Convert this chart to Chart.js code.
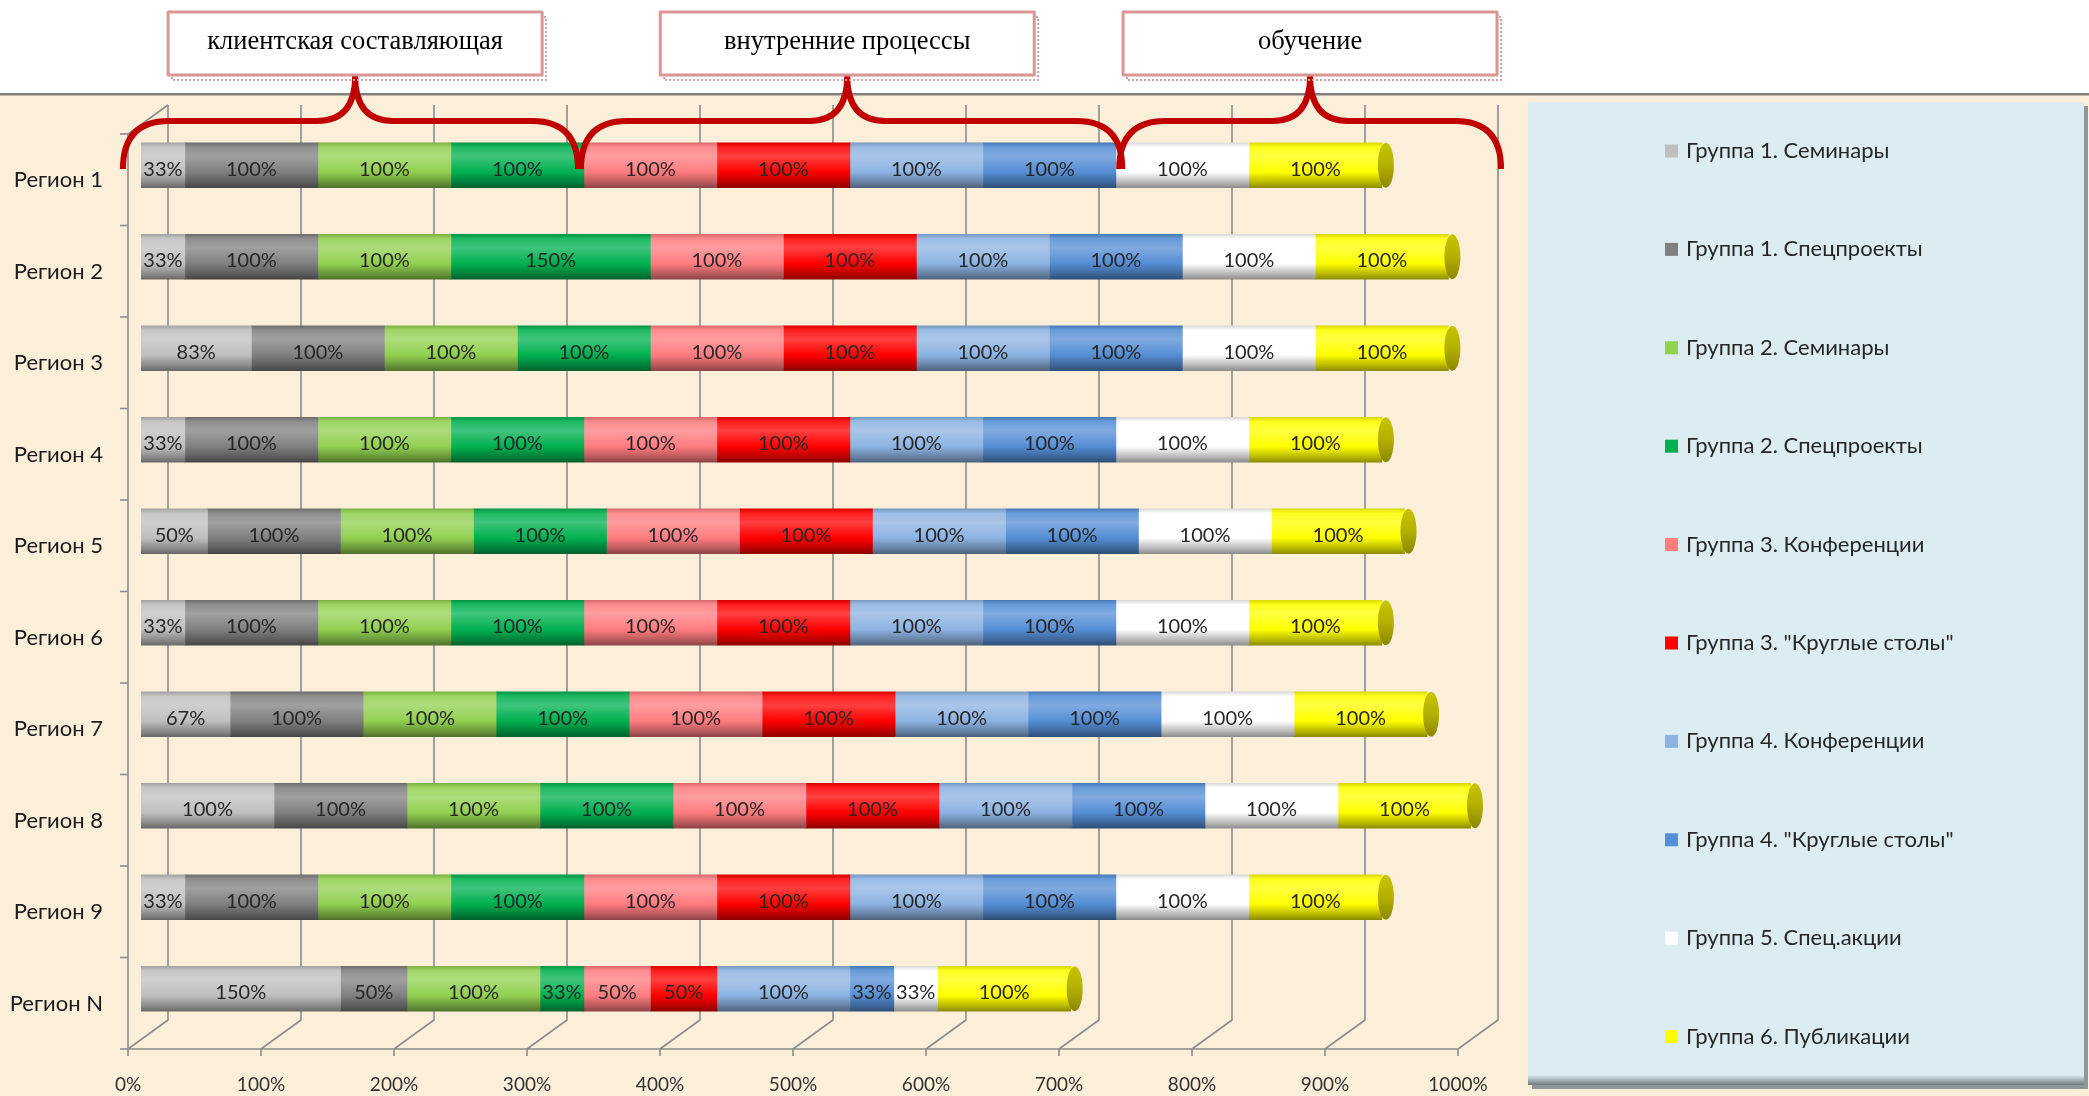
<!DOCTYPE html>
<html>
<head>
<meta charset="utf-8">
<script src="https://cdn.jsdelivr.net/npm/chart.js@4.4.1/dist/chart.umd.min.js"></script>
<style>
html, body { margin: 0; padding: 0; background: #fff; overflow: hidden; }
</style>
</head>
<body>
<canvas id="c" width="2089" height="1096"></canvas>
<script>
// категории
var regions = ['Регион 1', 'Регион 2', 'Регион 3', 'Регион 4', 'Регион 5', 'Регион 6', 'Регион 7', 'Регион 8', 'Регион 9', 'Регион N'];

// ряды, %
var g1Seminars  = [33, 33, 83, 33, 50, 33, 67, 100, 33, 150];
var g1Special   = [100, 100, 100, 100, 100, 100, 100, 100, 100, 50];
var g2Seminars  = [100, 100, 100, 100, 100, 100, 100, 100, 100, 100];
var g2Special   = [100, 150, 100, 100, 100, 100, 100, 100, 100, 33];
var g3Conf      = [100, 100, 100, 100, 100, 100, 100, 100, 100, 50];
var g3Round     = [100, 100, 100, 100, 100, 100, 100, 100, 100, 50];
var g4Conf      = [100, 100, 100, 100, 100, 100, 100, 100, 100, 100];
var g4Round     = [100, 100, 100, 100, 100, 100, 100, 100, 100, 33];
var g5Actions   = [100, 100, 100, 100, 100, 100, 100, 100, 100, 33];
var g6Publish   = [100, 100, 100, 100, 100, 100, 100, 100, 100, 100];

var seriesNames = ['Группа 1. Семинары', 'Группа 1. Спецпроекты', 'Группа 2. Семинары', 'Группа 2. Спецпроекты',
	'Группа 3. Конференции', 'Группа 3. "Круглые столы"', 'Группа 4. Конференции', 'Группа 4. "Круглые столы"',
	'Группа 5. Спец.акции', 'Группа 6. Публикации'];
var seriesColors = ['#bfbfbf', '#808080', '#92d050', '#00b050', '#ff7c80', '#ff0000', '#8db3e2', '#558ed5', '#ffffff', '#ffff00'];

var tickLabels = ['0%', '100%', '200%', '300%', '400%', '500%', '600%', '700%', '800%', '900%', '1000%'];

// группы сверху: заголовок, диапазон скобки и вершина (в единицах оси X)
var groupTitles = ['клиентская составляющая', 'внутренние процессы', 'обучение'];
var groupFrom   = [-13.6, 330.8, 735.5];
var groupTo     = [328.6, 737.8, 1022.6];
var groupPeak   = [161, 531, 879];

var BAR = 45;
var FONT = "Lato, 'Noto Sans', sans-serif";

function mix(hex, to, t) {
	var a = parseInt(hex.slice(1), 16), b = parseInt(to.slice(1), 16);
	var r = Math.round(((a >> 16) & 255) * (1 - t) + ((b >> 16) & 255) * t);
	var g = Math.round(((a >> 8) & 255) * (1 - t) + ((b >> 8) & 255) * t);
	var bl = Math.round((a & 255) * (1 - t) + (b & 255) * t);
	return 'rgb(' + r + ',' + g + ',' + bl + ')';
}

// цилиндрическая заливка
function cylinder(base) {
	return function(ctx) {
		var chart = ctx.chart, ys = chart.scales.y;
		if (ctx.type !== 'data' || !ys) return base;
		var yc = ys.getPixelForValue(ctx.dataIndex);
		if (!isFinite(yc)) return base;
		var g = chart.ctx.createLinearGradient(0, yc - BAR / 2, 0, yc + BAR / 2);
		g.addColorStop(0, mix(base, '#000000', 0.15));
		g.addColorStop(0.1, mix(base, '#ffffff', 0.12));
		g.addColorStop(0.3, mix(base, '#ffffff', 0.25));
		g.addColorStop(0.65, base);
		g.addColorStop(0.88, mix(base, '#000000', 0.28));
		g.addColorStop(1, mix(base, '#000000', 0.45));
		return g;
	};
}

var allSeries = [g1Seminars, g1Special, g2Seminars, g2Special, g3Conf, g3Round, g4Conf, g4Round, g5Actions, g6Publish];
var datasets = allSeries.map(function(d, i) {
	return {
		label: seriesNames[i],
		data: d,
		backgroundColor: cylinder(seriesColors[i]),
		borderWidth: 0,
		barThickness: BAR
	};
});

var OFF_BACK = 27, OFF_FRONT = -13, DEPTH = 14.5;

var bgPlugin = {
	id: 'bg',
	beforeDraw: function(chart) {
		var c = chart.ctx;
		c.save();
		c.fillStyle = '#ffffff';
		c.fillRect(0, 0, chart.width, 95);
		c.fillStyle = '#fbefd9';
		c.fillRect(0, 95, chart.width, chart.height - 95);
		c.fillStyle = '#808080';
		c.fillRect(0, 93, chart.width, 2.5);
		c.restore();
	}
};

// 3D-сетка
var gridPlugin = {
	id: 'grid3d',
	beforeDatasetsDraw: function(chart) {
		var xs = chart.scales.x, a = chart.chartArea, c = chart.ctx;
		var bTop = a.top - DEPTH, bBot = a.bottom - DEPTH, fTop = a.top + DEPTH, fBot = a.bottom + DEPTH;
		c.save();
		c.strokeStyle = '#8c8c8c';
		c.lineWidth = 1.6;
		xs.ticks.forEach(function(t) {
			var xm = xs.getPixelForValue(t.value);
			c.beginPath();
			c.moveTo(xm + OFF_BACK, bTop);
			c.lineTo(xm + OFF_BACK, bBot);
			c.lineTo(xm + OFF_FRONT, fBot);
			c.lineTo(xm + OFF_FRONT, fBot + 7);
			c.stroke();
		});
		var x0 = xs.getPixelForValue(0) + OFF_FRONT, x1 = xs.getPixelForValue(1000) + OFF_FRONT;
		c.beginPath();
		c.moveTo(x0, fBot); c.lineTo(x1, fBot);
		c.moveTo(x0 + (OFF_BACK - OFF_FRONT), bTop); c.lineTo(x0, fTop); c.lineTo(x0, fBot);
		c.stroke();
		var n = chart.data.labels.length, band = (a.bottom - a.top) / n;
		for (var k = 0; k <= n; k++) {
			var y = fTop + k * band;
			c.beginPath(); c.moveTo(x0 - 8, y); c.lineTo(x0, y); c.stroke();
		}
		c.restore();
	}
};

// торцы и подписи
var labelPlugin = {
	id: 'labels',
	afterDatasetsDraw: function(chart) {
		var c = chart.ctx, last = chart.data.datasets.length - 1;
		c.save();
		chart.getDatasetMeta(last).data.forEach(function(el) {
			var p = el.getProps(['x', 'y'], true);
			var g = c.createLinearGradient(0, p.y - BAR / 2, 0, p.y + BAR / 2);
			g.addColorStop(0, '#c8c400');
			g.addColorStop(0.5, '#b4b000');
			g.addColorStop(1, '#8a8600');
			c.fillStyle = g;
			c.beginPath();
			c.ellipse(p.x + 4, p.y, 8, BAR / 2, 0, 0, Math.PI * 2);
			c.fill();
		});
		c.font = '20px ' + FONT;
		c.fillStyle = '#262626';
		c.textAlign = 'center';
		c.textBaseline = 'middle';
		chart.data.datasets.forEach(function(ds, i) {
			chart.getDatasetMeta(i).data.forEach(function(el, j) {
				var v = ds.data[j];
				if (!v) return;
				var p = el.getProps(['x', 'base', 'y'], true);
				c.fillText(v + '%', (p.x + p.base) / 2, p.y + 4);
			});
		});
		c.restore();
	}
};

// скобки, заголовки групп, легенда
var decoPlugin = {
	id: 'deco',
	afterDraw: function(chart) {
		var c = chart.ctx, xs = chart.scales.x;
		c.save();
		// скобки
		var yTip = 169, yH = 121, yPeak = 76, r = 46, r2 = 38;
		c.strokeStyle = '#c00000';
		c.lineWidth = 6;
		c.lineJoin = 'round';
		for (var i = 0; i < groupTitles.length; i++) {
			var xa = xs.getPixelForValue(groupFrom[i]), xb = xs.getPixelForValue(groupTo[i]), xp = xs.getPixelForValue(groupPeak[i]);
			c.beginPath();
			c.moveTo(xa, yTip);
			c.quadraticCurveTo(xa, yH, xa + r, yH);
			c.lineTo(xp - r2, yH);
			c.quadraticCurveTo(xp, yH, xp, yPeak);
			c.quadraticCurveTo(xp, yH, xp + r2, yH);
			c.lineTo(xb - r, yH);
			c.quadraticCurveTo(xb, yH, xb, yTip);
			c.stroke();
		}
		// рамки заголовков
		for (var j = 0; j < groupTitles.length; j++) {
			var cx = xs.getPixelForValue(groupPeak[j]);
			var bx = cx - 187, bw = 374;
			c.lineWidth = 2;
			c.strokeStyle = '#c9a3a3';
			c.setLineDash([2, 2]);
			c.strokeRect(bx + 4, 17, bw, 63);
			c.setLineDash([]);
			c.fillStyle = '#ffffff';
			c.fillRect(bx, 12, bw, 63);
			c.lineWidth = 3;
			c.strokeStyle = '#d99694';
			c.strokeRect(bx, 12, bw, 63);
			c.fillStyle = '#000000';
			c.font = "26.5px 'Liberation Serif', 'Times New Roman', serif";
			c.textAlign = 'center';
			c.textBaseline = 'middle';
			c.fillText(groupTitles[j], cx, 42);
		}
		// легенда
		var lx = 1528, ly = 102, lw = 556, lh = 983;
		var sh = c.createLinearGradient(0, ly + lh - 10, 0, ly + lh);
		sh.addColorStop(0, '#dbedf3');
		sh.addColorStop(1, '#6d7a7e');
		c.fillStyle = '#8a989c';
		c.fillRect(lx + 4, ly + 4, lw, lh);
		c.fillStyle = sh;
		c.fillRect(lx, ly, lw, lh);
		c.fillStyle = '#dbedf3';
		c.fillRect(lx, ly, lw, lh - 10);
		c.font = '22px ' + FONT;
		c.textAlign = 'left';
		c.textBaseline = 'middle';
		chart.data.datasets.forEach(function(ds, k) {
			var y = 151 + k * 98.4;
			c.fillStyle = seriesColors[k];
			c.fillRect(1665, y - 6.5, 13, 13);
			c.fillStyle = '#262626';
			c.fillText(ds.label, 1686, y);
		});
		c.restore();
	}
};

var chart = new Chart(document.getElementById('c').getContext('2d'), {
	type: 'bar',
	data: { labels: regions, datasets: datasets },
	options: {
		indexAxis: 'y',
		responsive: false,
		animation: false,
		devicePixelRatio: 1,
		layout: { padding: { top: 119.5, right: 618, bottom: 0, left: 0 } },
		plugins: { legend: { display: false }, tooltip: { enabled: false } },
		scales: {
			x: {
				stacked: true,
				min: 0,
				max: 1000,
				grid: { display: false, drawTicks: false },
				border: { display: false },
				ticks: {
					stepSize: 100,
					padding: 39,
					labelOffset: OFF_FRONT,
					color: '#333333',
					font: { family: FONT, size: 19 },
					callback: function(v, i) { return tickLabels[i]; }
				},
				afterFit: function(s) { s.height = 61.5; }
			},
			y: {
				stacked: true,
				grid: { display: false, drawTicks: false },
				border: { display: false },
				ticks: {
					padding: 38,
					labelOffset: 15,
					color: '#1a1a1a',
					font: { family: FONT, size: 22 }
				},
				afterFit: function(s) { s.width = 141; }
			}
		}
	},
	plugins: [bgPlugin, gridPlugin, labelPlugin, decoPlugin]
});
</script>
</body>
</html>
